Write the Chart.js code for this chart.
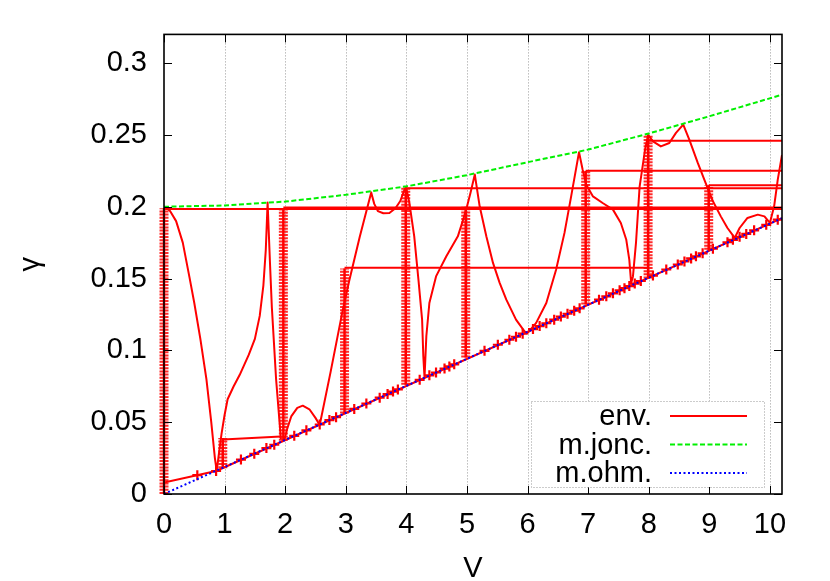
<!DOCTYPE html>
<html>
<head>
<meta charset="utf-8">
<script src="https://cdn.jsdelivr.net/npm/chart.js@4.4.1/dist/chart.umd.min.js"></script>
<style>
  html, body { margin: 0; padding: 0; background: #fff; }
</style>
</head>
<body>
<canvas id="myChart" width="830" height="581"></canvas>
<script>
// ticks
var xTicks = [0, 1, 2, 3, 4, 5, 6, 7, 8, 9, 10];
var yTicks = [0, 0.05, 0.1, 0.15, 0.2, 0.25, 0.3];
var xTitle = 'V';
var yTitle = 'γ';

// m.jonc. curve
var joncV = [0, 1, 2, 3, 4, 5, 6, 7, 8, 9, 10.2];
var joncG = [0.2, 0.2009, 0.2036, 0.2083, 0.2142, 0.222, 0.231, 0.2398, 0.251, 0.263, 0.278];

// m.ohm. line
var ohmV = [0, 10.2];
var ohmG = [0, 0.192];

// env. : base running along the ohmic line
var baseV = [0, 0.86, 10.2];
var baseG = [0.008, 0.016, 0.192];

// env. : first loop (from V=0 down, up to the spike, back down to V=2)
var firstV = [0, 0.05, 0.1, 0.2, 0.31, 0.42, 0.5, 0.6, 0.7, 0.78, 0.84, 0.87, 0.9, 0.95, 1.0, 1.05, 1.15, 1.25, 1.4, 1.5, 1.58, 1.64, 1.68, 1.71, 1.75, 1.78, 1.85, 1.93];
var firstG = [0.199, 0.1988, 0.197, 0.19, 0.175, 0.151, 0.133, 0.108, 0.08, 0.05, 0.025, 0.016, 0.026, 0.042, 0.055, 0.066, 0.075, 0.083, 0.097, 0.108, 0.124, 0.145, 0.17, 0.203, 0.16, 0.13, 0.08, 0.038];

// env. : short bridge at V=1 and the hump after V=2
var bridgeV = [0.97, 1.93];
var bridgeG = [0.038, 0.040];
var humpV = [1.99, 2.03, 2.1, 2.2, 2.29, 2.4, 2.5, 2.57];
var humpG = [0.038, 0.045, 0.054, 0.06, 0.0615, 0.059, 0.053, 0.048];

// env. : the long trace from V=2.6 to the right edge
var mainV = [2.57, 2.75, 2.95, 3.06, 3.23, 3.42, 3.47, 3.53, 3.62, 3.72, 3.82, 3.9, 3.97, 4.0, 4.05, 4.13, 4.2, 4.26, 4.28, 4.30,
             4.33, 4.38, 4.49, 4.66, 4.85, 4.93, 5.0, 5.06, 5.13, 5.21, 5.32, 5.43, 5.54, 5.65, 5.81, 5.95, 6.0, 6.14, 6.31, 6.47,
             6.61, 6.72, 6.85, 6.91, 6.97, 7.08, 7.24, 7.41, 7.54, 7.63, 7.68, 7.71, 7.74, 7.79, 7.85, 7.94, 7.99, 8.07, 8.2, 8.34,
             8.45, 8.57, 8.67, 8.81, 8.95, 9.06, 9.19, 9.3, 9.42, 9.5, 9.63, 9.8, 9.91, 10.0, 10.07, 10.13, 10.2];
var mainG = [0.048, 0.085, 0.128, 0.149, 0.179, 0.21, 0.202, 0.197, 0.1955, 0.1957, 0.199, 0.204, 0.212, 0.213, 0.2026, 0.1794, 0.149, 0.1214, 0.096, 0.081,
             0.11, 0.133, 0.1515, 0.1655, 0.1794, 0.19, 0.2, 0.21, 0.2224, 0.2003, 0.1794, 0.1609, 0.147, 0.1353, 0.1214, 0.1132, 0.112, 0.119, 0.133, 0.156,
             0.1818, 0.2072, 0.238, 0.2258, 0.2154, 0.2072, 0.2026, 0.198, 0.1887, 0.177, 0.163, 0.147, 0.1515, 0.1748, 0.214, 0.2398, 0.25, 0.2455, 0.242, 0.2444,
             0.2514, 0.2572, 0.2467, 0.2305, 0.2154, 0.2038, 0.1933, 0.1852, 0.1783, 0.1852, 0.1922, 0.1945, 0.1933, 0.1887, 0.2003, 0.2189, 0.236];

// env. : flat runs to the right
var flatStart = [0, 1.97, 2.98, 3.99, 6.96, 7.99, 8.99];
var flatEnd = [10.2, 10.2, 7.99, 10.2, 10.2, 10.2, 10.2];
var flatG = [0.1985, 0.1995, 0.1575, 0.2128, 0.225, 0.246, 0.215];

// env. : stacks of points at each voltage step
var colV = [0, 0.97, 1.97, 2.98, 3.99, 4.98, 6.96, 7.99, 8.99];
var colLow = [0, 0.018, 0.037, 0.056, 0.076, 0.095, 0.132, 0.150, 0.170];
var colHigh = [0.199, 0.039, 0.199, 0.157, 0.214, 0.200, 0.225, 0.250, 0.215];

// env. : single points along the ohmic line
var markV = [0.55, 0.86, 1.27, 1.49, 1.69, 1.82, 2.15, 2.35, 2.57, 2.73, 2.84, 3.14, 3.34, 3.56, 3.69, 3.78, 3.86, 4.22, 4.38, 4.49,
             4.63, 4.71, 4.79, 5.29, 5.51, 5.70, 5.81, 5.92, 6.09, 6.20, 6.31, 6.44, 6.55, 6.66, 6.77, 6.86, 7.18, 7.30, 7.41, 7.52,
             7.60, 7.68, 7.77, 7.87, 8.07, 8.29, 8.48, 8.59, 8.70, 8.78, 8.89, 9.06, 9.30, 9.39, 9.50, 9.61, 9.74, 9.94, 10.13];
var markG = [0.0131, 0.016, 0.024, 0.028, 0.032, 0.0343, 0.0405, 0.0443, 0.0484, 0.0515, 0.0535, 0.0592, 0.063, 0.0671, 0.0696, 0.0713, 0.0728, 0.0795, 0.0826, 0.0846,
             0.0873, 0.0888, 0.0903, 0.0997, 0.1039, 0.1074, 0.1095, 0.1116, 0.1148, 0.1169, 0.1189, 0.1214, 0.1235, 0.1255, 0.1276, 0.1293, 0.1353, 0.1376, 0.1397, 0.1418,
             0.1433, 0.1448, 0.1465, 0.1483, 0.1521, 0.1563, 0.1598, 0.1619, 0.164, 0.1655, 0.1676, 0.1708, 0.1753, 0.177, 0.1791, 0.1811, 0.1836, 0.1874, 0.191];

var RED = '#ff0000';
var GREEN = '#00f000';
var BLUE = '#0000ff';
var FONT = '"Liberation Sans", Arial, Helvetica, sans-serif';

function pts(xs, ys) {
    return xs.map(function (x, i) { return { x: x, y: ys[i] }; });
}

function redLine(data) {
    return {
        data: data, showLine: true, borderColor: RED, borderWidth: 2,
        borderJoinStyle: 'round', pointRadius: 0, order: 2
    };
}

var datasets = [];

datasets.push({
    label: 'm.ohm.', data: pts(ohmV, ohmG), showLine: true,
    borderColor: BLUE, borderWidth: 2, borderDash: [2, 2.5], pointRadius: 0, order: 0
});
datasets.push({
    label: 'm.jonc.', data: pts(joncV, joncG), showLine: true,
    borderColor: GREEN, borderWidth: 2, borderDash: [5, 2.5], pointRadius: 0, order: 1
});

var env = redLine(pts(mainV, mainG));
env.label = 'env.';
datasets.push(env);
datasets.push(redLine(pts(baseV, baseG)));
datasets.push(redLine(pts(firstV, firstG)));
datasets.push(redLine(pts(bridgeV, bridgeG)));
datasets.push(redLine(pts(humpV, humpG)));

flatStart.forEach(function (v, i) {
    datasets.push(redLine([{ x: v, y: flatG[i] }, { x: flatEnd[i], y: flatG[i] }]));
});

colV.forEach(function (v, i) {
    var d = [{ x: v, y: colLow[i] }, { x: v, y: colHigh[i] }];
    var stem = redLine(d);
    stem.borderWidth = 2.5;
    stem.clip = false;
    datasets.push(stem);
    datasets.push({
        data: d, showLine: true, borderColor: 'rgba(255,20,20,0.9)', borderWidth: 9,
        borderDash: [2, 1.2], pointRadius: 0, order: 2, clip: false
    });
});

datasets.push({
    data: pts(markV, markG), showLine: false, pointStyle: 'cross',
    pointRadius: 5, pointBorderWidth: 2.2, borderColor: RED, backgroundColor: RED, order: 2
});

var legendItems = [
    { text: 'env.', color: RED, dash: [] },
    { text: 'm.jonc.', color: GREEN, dash: [5, 2.5] },
    { text: 'm.ohm.', color: BLUE, dash: [2, 2.5] }
];

var framePlugin = {
    id: 'frame',
    beforeDatasetsDraw: function (chart) {
        var a = chart.chartArea, ctx = chart.ctx, xs = chart.scales.x;
        ctx.save();
        ctx.strokeStyle = '#999999';
        ctx.lineWidth = 1;
        ctx.setLineDash([1, 2]);
        xTicks.forEach(function (v) {
            if (v === 0) return;
            var px = Math.round(xs.getPixelForValue(v)) + 0.5;
            ctx.beginPath();
            ctx.moveTo(px, a.top);
            ctx.lineTo(px, a.bottom);
            ctx.stroke();
        });
        ctx.restore();
    },
    afterDatasetsDraw: function (chart) {
        var a = chart.chartArea, ctx = chart.ctx;
        var xs = chart.scales.x, ys = chart.scales.y;
        ctx.save();
        ctx.setLineDash([]);
        ctx.strokeStyle = '#000';
        ctx.lineWidth = 1;
        var tl = 8;
        xTicks.forEach(function (v) {
            var px = Math.round(xs.getPixelForValue(v)) + 0.5;
            ctx.beginPath();
            ctx.moveTo(px, a.bottom); ctx.lineTo(px, a.bottom - tl);
            ctx.moveTo(px, a.top); ctx.lineTo(px, a.top + tl);
            ctx.stroke();
        });
        yTicks.forEach(function (v) {
            var py = Math.round(ys.getPixelForValue(v)) + 0.5;
            ctx.beginPath();
            ctx.moveTo(a.left, py); ctx.lineTo(a.left + tl, py);
            ctx.moveTo(a.right, py); ctx.lineTo(a.right - tl, py);
            ctx.stroke();
        });
        ctx.lineWidth = 1.6;
        ctx.strokeRect(a.left, a.top, a.right - a.left, a.bottom - a.top);

        // axis titles
        ctx.fillStyle = '#000';
        ctx.font = '29px ' + FONT;
        ctx.textAlign = 'center';
        ctx.textBaseline = 'alphabetic';
        ctx.fillText(xTitle, (a.left + a.right) / 2, 577);
        ctx.save();
        ctx.translate(38.5, (a.top + a.bottom) / 2);
        ctx.rotate(-Math.PI / 2);
        ctx.fillText(yTitle, 0, 0);
        ctx.restore();

        // key box
        var bx = a.right - 251, by = a.bottom - 93, bw = 233, bh = 86;
        ctx.fillStyle = '#fff';
        ctx.fillRect(bx, by, bw, bh);
        ctx.strokeStyle = '#999999';
        ctx.lineWidth = 1;
        ctx.setLineDash([1, 2]);
        ctx.strokeRect(bx + 0.5, by + 0.5, bw, bh);

        ctx.textAlign = 'right';
        ctx.textBaseline = 'middle';
        legendItems.forEach(function (it, i) {
            var ry = by + 15 + i * 28.5;
            ctx.fillStyle = '#000';
            ctx.fillText(it.text, bx + 121, ry + 1);
            ctx.strokeStyle = it.color;
            ctx.lineWidth = 2;
            ctx.setLineDash(it.dash);
            ctx.beginPath();
            ctx.moveTo(bx + 139, ry);
            ctx.lineTo(bx + 216, ry);
            ctx.stroke();
        });
        ctx.restore();
    }
};

var ctx = document.getElementById('myChart').getContext('2d');

new Chart(ctx, {
    type: 'scatter',
    data: { datasets: datasets },
    plugins: [framePlugin],
    options: {
        responsive: false,
        animation: false,
        devicePixelRatio: 1,
        events: [],
        layout: { padding: { left: 0, right: 48, top: 34, bottom: 0 } },
        plugins: {
            legend: { display: false },
            tooltip: { enabled: false }
        },
        scales: {
            x: {
                type: 'linear', min: 0, max: 10.2,
                grid: { display: false, drawTicks: false },
                border: { display: false },
                ticks: {
                    stepSize: 1, includeBounds: false, padding: 14, color: '#000',
                    maxRotation: 0, autoSkip: false,
                    font: { family: FONT, size: 29 }
                },
                afterFit: function (s) { s.height = 87; }
            },
            y: {
                type: 'linear', min: 0, max: 0.32,
                grid: { display: false, drawTicks: false },
                border: { display: false },
                ticks: {
                    stepSize: 0.05, includeBounds: false, padding: 17, color: '#000',
                    font: { family: FONT, size: 29 },
                    callback: function (v) { return String(+v.toFixed(2)); }
                },
                afterFit: function (s) { s.width = 164; }
            }
        }
    }
});
</script>
</body>
</html>
